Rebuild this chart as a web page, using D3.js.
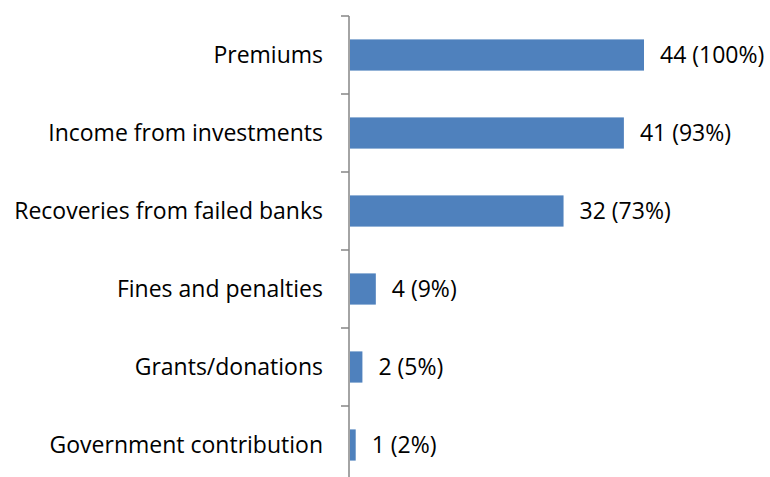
<!DOCTYPE html>
<html>
<head>
<meta charset="utf-8">
<script src="https://cdn.jsdelivr.net/npm/d3@7"></script>
<style>
  body { margin: 0; background: #fff; }
  svg { display: block; }
</style>
</head>
<body>
<div id="chart"></div>
<script>
// Revenue sources (count of funds, share of 44)
const categories = ["Premiums", "Income from investments", "Recoveries from failed banks",
                    "Fines and penalties", "Grants/donations", "Government contribution"];
const counts = [44, 41, 32, 4, 2, 1];
const percents = [100, 93, 73, 9, 5, 2];

const data = categories.map((c, i) => ({ name: c, count: counts[i], pct: percents[i] }));

const width = 770,
      height = 477,
      margin = ({ top: 16, right: 126, bottom: -7, left: 349 });

let svg = d3.select("#chart")
    .append("svg")
    .attr("width", width)
    .attr("height", height)
    .style("font-family", "'Open Sans', sans-serif");

let x = d3.scaleLinear()
    .domain([0, 44])
    .range([margin.left, 644]);

let y = d3.scaleBand()
    .domain(categories)
    .range([margin.top, height - margin.bottom])
    .paddingInner(0.6)
    .paddingOuter(0.3);

// bars
svg.selectAll(".bar")
    .data(data)
    .join("rect")
    .attr("class", "bar")
    .attr("fill", "#4F81BD")
    .attr("x", x(0) + 1)
    .attr("y", d => y(d.name))
    .attr("width", d => x(d.count) - x(0) - 1)
    .attr("height", y.bandwidth());

// value labels
svg.selectAll(".val")
    .data(data)
    .join("text")
    .attr("class", "val")
    .attr("x", d => x(d.count) + 16)
    .attr("y", d => y(d.name) + y.bandwidth() / 2)
    .attr("dy", "0.36em")
    .style("font-size", "23px")
    .style("fill", "#000")
    .text(d => `${d.count} (${d.pct}%)`);

// category axis, ticks sit between the bands
let edges = d3.range(categories.length + 1).map(i => margin.top + i * y.step());

let ax = svg.append("g");
ax.append("line")
    .attr("x1", x(0)).attr("x2", x(0))
    .attr("y1", edges[0]).attr("y2", edges[edges.length - 1])
    .attr("stroke", "#868686")
    .attr("stroke-width", 1.5);
ax.selectAll(".tick")
    .data(edges)
    .join("line")
    .attr("x1", x(0) - 8).attr("x2", x(0))
    .attr("y1", d => d).attr("y2", d => d)
    .attr("stroke", "#868686")
    .attr("stroke-width", 1.5);

svg.selectAll(".cat")
    .data(data)
    .join("text")
    .attr("class", "cat")
    .attr("x", 323)
    .attr("y", d => y(d.name) + y.bandwidth() / 2)
    .attr("dy", "0.36em")
    .attr("text-anchor", "end")
    .style("font-size", "23px")
    .style("fill", "#000")
    .text(d => d.name);
</script>
</body>
</html>
